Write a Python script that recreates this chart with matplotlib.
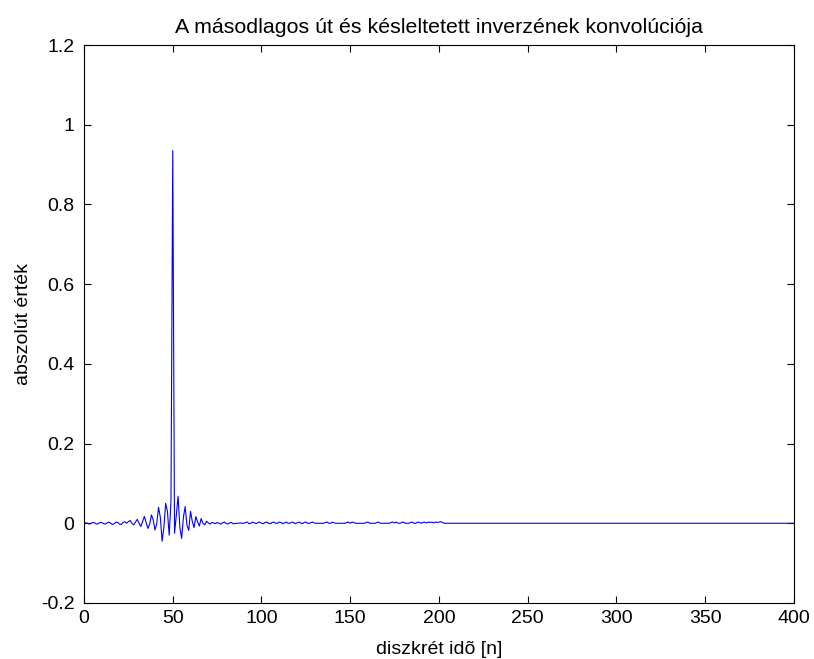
import matplotlib
matplotlib.use("Agg")
import matplotlib.pyplot as plt
from matplotlib.ticker import FuncFormatter

plt.rcParams['font.family'] = ['Liberation Sans', 'DejaVu Sans']

# a konvolúció mintái, n = 0 .. 205 (utána nulla)
eleje = [0.000, 0.001, 0.000, -0.002, 0.000, 0.002, 0.001, -0.002, -0.001, 0.002,
         0.002, -0.001, -0.002, 0.001, 0.003, 0.000, -0.003, -0.001, 0.003, 0.002,
         -0.002, -0.003, 0.002, 0.004, 0.000, 0.004, 0.007, 0.000, -0.004, 0.003,
         0.010, 0.000, -0.008, 0.004, 0.017, 0.002, -0.013, -0.002, 0.021, 0.008,
         -0.017, 0.000, 0.040, 0.015, -0.045, -0.010, 0.050, 0.030, -0.030, 0.055]
csucs = [0.935]
lecsenges = [-0.025, 0.020, 0.068, -0.010, -0.038, 0.015, 0.042, -0.005, -0.018, 0.030,
             0.005, -0.011, 0.017, 0.003, -0.007, 0.012, 0.000, -0.004, 0.005, 0.001,
             -0.002, 0.002]
farok = [0.001, -0.001, 0.002, 0.000, -0.002, 0.001, 0.003, 0.000,
         -0.002, 0.001, 0.002, -0.001, -0.001, 0.000, 0.000, 0.001, 0.000, 0.000,
         0.002, 0.003, -0.001, 0.000, 0.003, 0.001, -0.001, 0.002, 0.003, 0.000,
         -0.001, 0.002, 0.003, 0.000, -0.001, 0.002, 0.003, 0.000, 0.000, 0.003,
         0.002, -0.001, 0.001, 0.003, 0.000, 0.000, 0.003, 0.002, -0.001, 0.001,
         0.003, 0.001, -0.001, 0.002, 0.003, 0.000, 0.000, 0.002, 0.003, 0.000,
         0.000, 0.000, 0.000, 0.000, 0.000, 0.002, 0.003, 0.000, 0.000, 0.003,
         0.001, 0.000, 0.000, 0.000, 0.000, 0.000, 0.000, 0.002, 0.003, 0.000,
         0.003, 0.002, 0.000, 0.000, 0.000, 0.000, 0.000, 0.000, 0.002, 0.003,
         0.000, 0.000, 0.000, 0.000, 0.002, 0.003, 0.000, 0.000, 0.000, 0.000,
         0.000, 0.000, 0.002, 0.003, 0.001, 0.003, 0.000, 0.000, 0.002, 0.003,
         0.000, 0.000, 0.000, 0.002, 0.003, 0.000, 0.000, 0.003, 0.002, 0.000,
         0.002, 0.003, 0.001, 0.003, 0.002, 0.003, 0.001, 0.003, 0.002, 0.003,
         0.004, 0.002, 0.000, 0.000, 0.000]
nullak = [0.0] * (401 - len(eleje) - len(csucs) - len(lecsenges) - len(farok))

ertekek = eleje + csucs + lecsenges + farok + nullak
n = list(range(len(ertekek)))

xtick = [0, 50, 100, 150, 200, 250, 300, 350, 400]
ytick = [-0.2, 0, 0.2, 0.4, 0.6, 0.8, 1, 1.2]

fig = plt.figure(figsize=(8.14, 6.59), dpi=100)
fig.patch.set_facecolor('white')
ax = fig.add_axes([0.1032, 0.085, 0.8722, 0.8467])

ax.plot(n, ertekek, color='#0000FF', linewidth=0.8)

ax.set_xlim(0, 400)
ax.set_ylim(-0.2, 1.2)
ax.set_xticks(xtick)
ax.set_yticks(ytick)
ax.yaxis.set_major_formatter(FuncFormatter(lambda v, p: '%g' % round(v, 2)))
ax.tick_params(direction='in', length=5, width=0.8, top=True, right=True,
               labelsize=14)
ax.tick_params(axis='x', pad=5)
ax.tick_params(axis='y', pad=7)
for s in ax.spines.values():
    s.set_linewidth(0.8)

ax.set_title('A másodlagos út és késleltetett inverzének konvolúciója', fontsize=15.4, pad=9)
ax.set_xlabel('diszkrét idõ [n]', fontsize=14, labelpad=10)
ax.set_ylabel('abszolút érték', fontsize=14, labelpad=6)

fig.savefig('out.png', dpi=100)
